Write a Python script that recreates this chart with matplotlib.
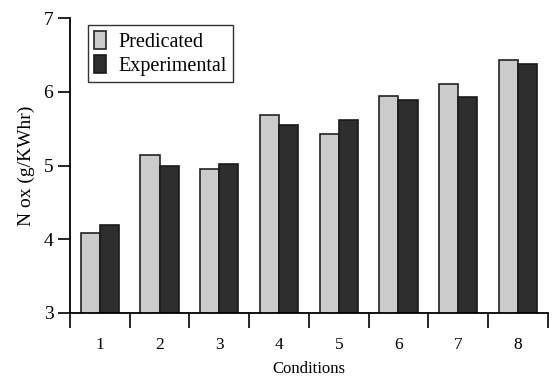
import matplotlib
matplotlib.use("Agg")
import matplotlib.pyplot as plt
import numpy as np

conditions = ["1", "2", "3", "4", "5", "6", "7", "8"]
predicated = [4.08, 5.14, 4.95, 5.68, 5.43, 5.94, 6.10, 6.43]
experimental = [4.19, 5.00, 5.02, 5.55, 5.62, 5.89, 5.93, 6.38]

plt.rcParams['font.family'] = ['Liberation Serif', 'DejaVu Serif']

fig = plt.figure(figsize=(5.53, 3.83), dpi=100)
ax = fig.add_axes([0.1266, 0.1828, 0.864, 0.770])

x = np.arange(1, len(conditions) + 1)
w = 0.32
ax.bar(x - w / 2, predicated, w, color="#cbcbcb", edgecolor="#222222", linewidth=1.2, label="Predicated")
ax.bar(x + w / 2, experimental, w, color="#2e2e2e", edgecolor="#1a1a1a", linewidth=1.2, label="Experimental")

ax.set_xlim(0.5, len(conditions) + 0.5)
ax.set_ylim(3, 7)
ax.set_yticks([3, 4, 5, 6, 7])
ax.tick_params(axis='y', direction='out', length=9, width=1.2, labelsize=14, pad=3)
ax.set_xticks(x)
ax.set_xticklabels(conditions)
ax.set_xticks(np.arange(0.5, len(conditions) + 1, 1.0), minor=True)
ax.tick_params(axis='x', which='major', length=0, labelsize=12.5, pad=17)
ax.tick_params(axis='x', which='minor', direction='out', length=11, width=1.2)

for s in ['top', 'right']:
    ax.spines[s].set_visible(False)
for s in ['left', 'bottom']:
    ax.spines[s].set_linewidth(1.3)

ax.set_xlabel("Conditions", fontsize=12, labelpad=6)
ax.set_ylabel("N ox (g/KWhr)", fontsize=14, labelpad=6)

leg = ax.legend(loc='upper left', bbox_to_anchor=(0.038, 0.976), borderaxespad=0,
                fontsize=14.5, frameon=True, fancybox=False, edgecolor='black',
                handlelength=0.6, handleheight=1.0, handletextpad=0.6,
                borderpad=0.3, labelspacing=0.15)
leg.get_frame().set_linewidth(1.0)

fig.savefig("out.png", dpi=100)
